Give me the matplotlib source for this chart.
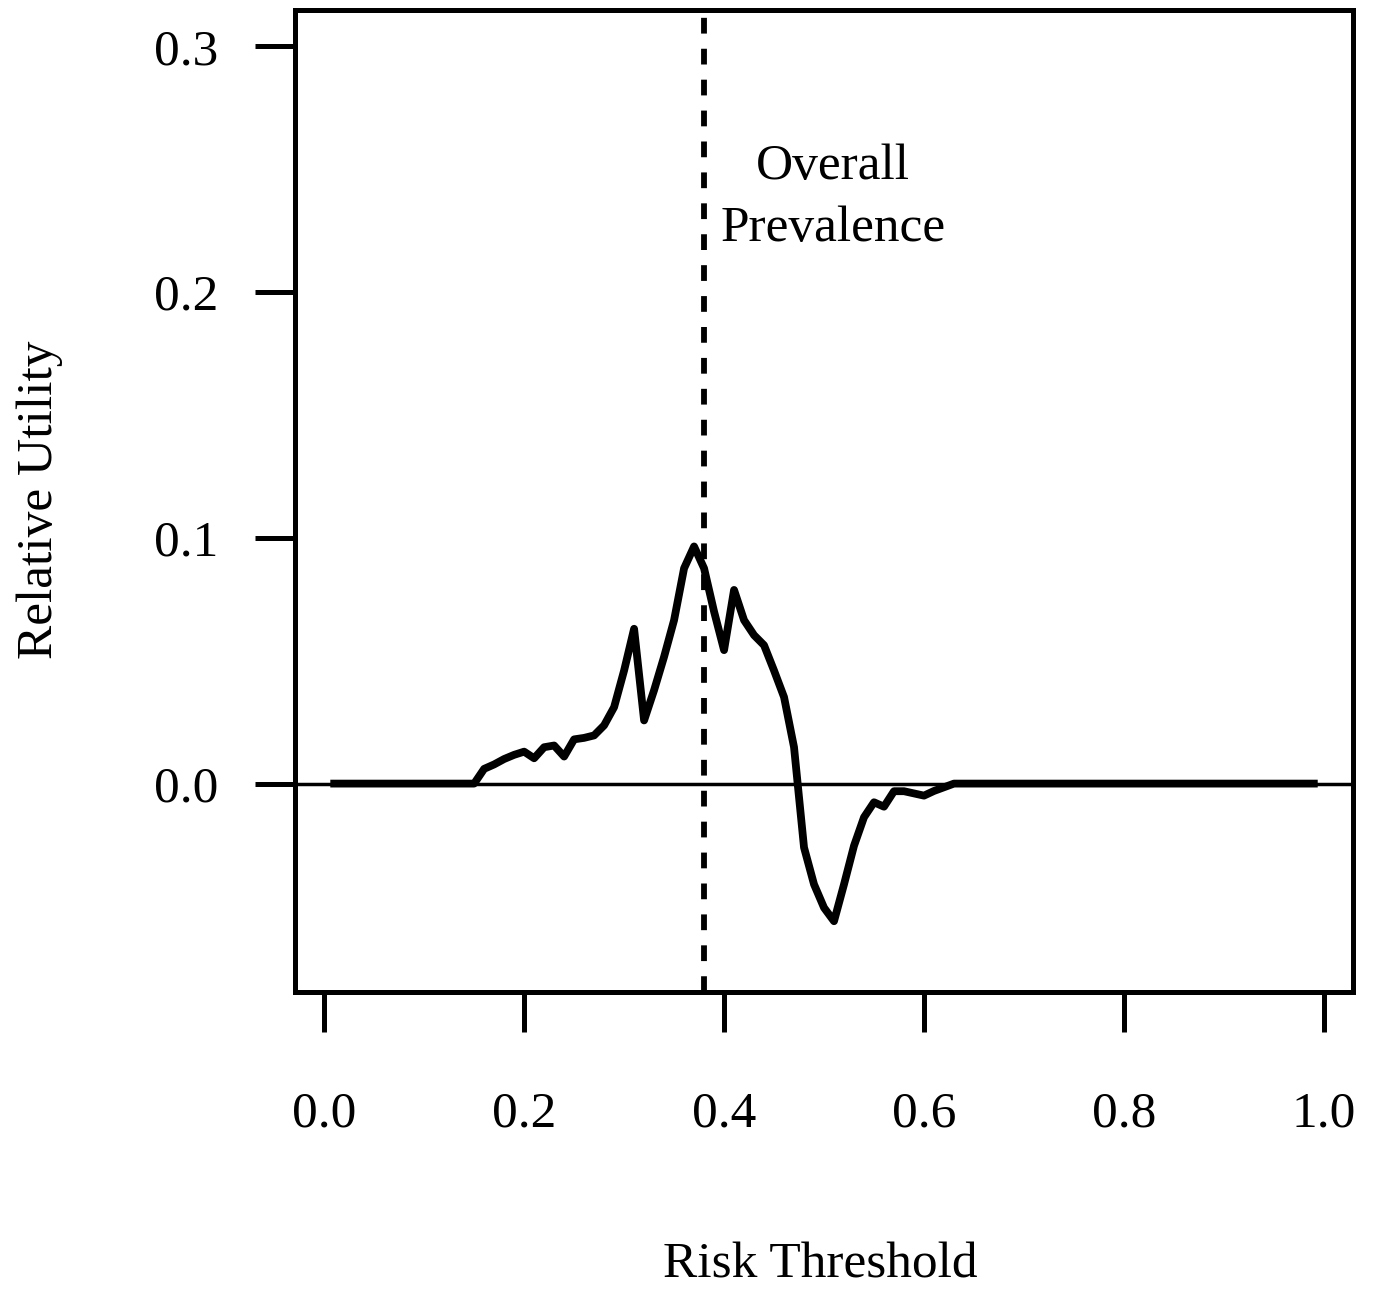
import numpy as np
import matplotlib
matplotlib.use("Agg")
import matplotlib.pyplot as plt

# risk thresholds 0.01 .. 0.99 and relative utility
threshold = np.round(np.arange(1, 100) / 100, 2)
utility_nonzero = {
    0.16: 0.006, 0.17: 0.0078, 0.18: 0.010, 0.19: 0.0117, 0.20: 0.013,
    0.21: 0.0103, 0.22: 0.0148, 0.23: 0.0155, 0.24: 0.011, 0.25: 0.018,
    0.26: 0.0186, 0.27: 0.0196, 0.28: 0.0237, 0.29: 0.0311, 0.30: 0.046,
    0.31: 0.063, 0.32: 0.0257, 0.33: 0.038, 0.34: 0.0516, 0.35: 0.0665,
    0.36: 0.0876, 0.37: 0.0965, 0.38: 0.0876, 0.39: 0.070, 0.40: 0.0543,
    0.41: 0.0788, 0.42: 0.0665, 0.43: 0.0604, 0.44: 0.0563, 0.45: 0.046,
    0.46: 0.0352, 0.47: 0.0148, 0.48: -0.026, 0.49: -0.041, 0.50: -0.0505,
    0.51: -0.056, 0.52: -0.041, 0.53: -0.0253, 0.54: -0.0137, 0.55: -0.0076,
    0.56: -0.0094, 0.57: -0.0031, 0.58: -0.0031, 0.59: -0.004, 0.60: -0.0049,
    0.61: -0.003, 0.62: -0.0015,
}
utility = np.array([utility_nonzero.get(t, 0.0) for t in threshold])
prevalence = 0.38

x_ticks = [0.0, 0.2, 0.4, 0.6, 0.8, 1.0]
y_ticks = [0.0, 0.1, 0.2, 0.3]

plt.rcParams['font.family'] = ['Liberation Serif', 'DejaVu Serif']
FS = 37

fig = plt.figure(figsize=(13.76, 12.92), dpi=100)
ax = fig.add_axes([0.2144, 0.2322, 0.7689, 0.7601])

ax.axhline(0, color="black", linewidth=2.5, zorder=1)
ax.plot(threshold, utility, color="black", linewidth=5.6, zorder=3)
ax.axvline(prevalence, color="black", linewidth=4.2, linestyle=(0, (2.7, 2.6)), zorder=2)
# annotation next to the prevalence line
ax.text(0.509, 0.2461, "Overall", ha="center", va="baseline", fontsize=FS)
ax.text(0.509, 0.2208, "Prevalence", ha="center", va="baseline", fontsize=FS)

ax.set_xlim(-0.0292, 1.0292)
ax.set_ylim(-0.0848, 0.3148)
ax.set_xticks(x_ticks)
ax.set_xticklabels([f"{v:.1f}" for v in x_ticks])
ax.set_yticks(y_ticks)
ax.set_yticklabels([f"{v:.1f}" for v in y_ticks])
ax.tick_params(axis="both", direction="out", length=29, width=3.6,
               labelsize=FS)
ax.tick_params(axis="x", pad=42)
ax.tick_params(axis="y", pad=26)
for sp in ax.spines.values():
    sp.set_linewidth(3.6)

fig.text(0.596, 1 - 1278 / 1292, "Risk Threshold", ha="center", va="baseline",
         fontsize=FS)
fig.text(52 / 1376, 1 - 500 / 1292, "Relative Utility", ha="center", va="baseline",
         rotation=90, rotation_mode="anchor", fontsize=FS)

fig.savefig("out.png", dpi=100)
